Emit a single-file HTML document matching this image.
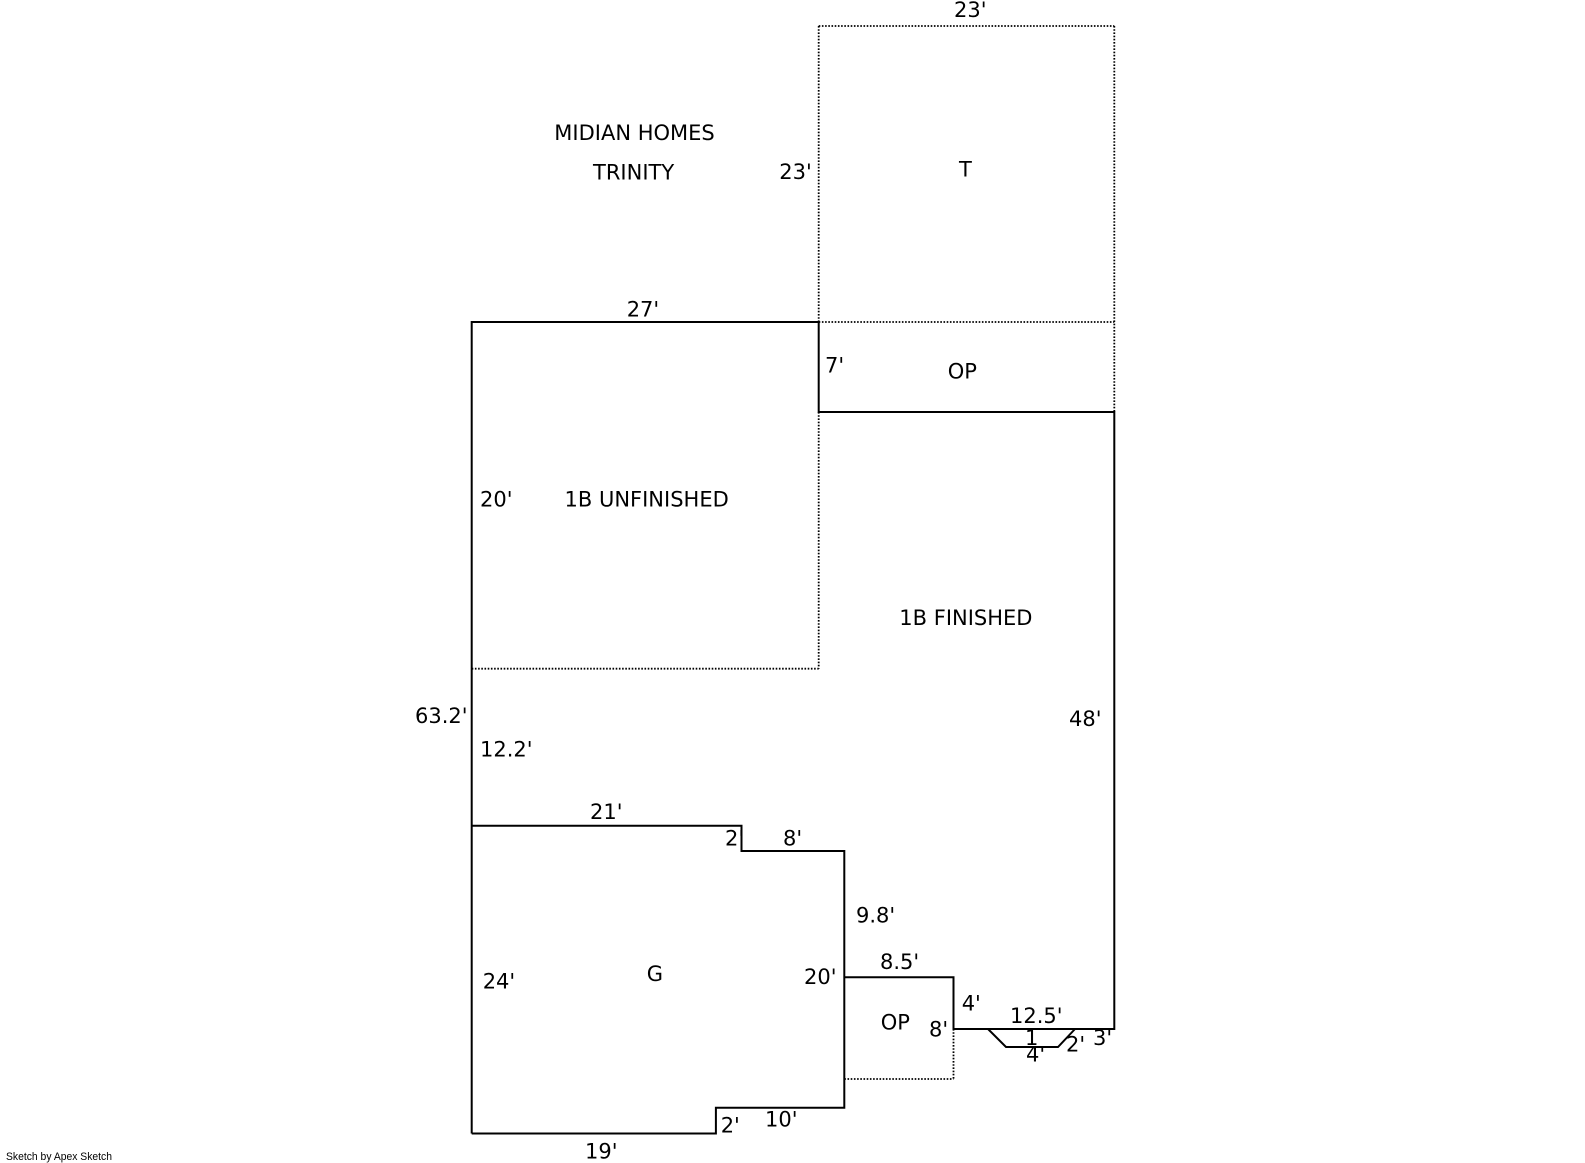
<!DOCTYPE html>
<html>
<head>
<meta charset="utf-8">
<style>
html,body{margin:0;padding:0;background:#fff;}
svg{display:block;}
text{font-family:"DejaVu Sans","Liberation Sans",sans-serif;font-size:21px;fill:#000;}
</style>
</head>
<body>
<svg width="1585" height="1163" viewBox="0 0 1585 1163" xmlns="http://www.w3.org/2000/svg">
<rect width="1585" height="1163" fill="#fff"/>
<!-- dotted lines -->
<g stroke="#000" stroke-width="1.8" stroke-dasharray="1.6 1.6" fill="none">
  <line x1="818.7" y1="26" x2="1114.3" y2="26"/>
  <line x1="818.7" y1="26" x2="818.7" y2="322"/>
  <line x1="1114.3" y1="26" x2="1114.3" y2="412"/>
  <line x1="818.7" y1="322" x2="1114.3" y2="322"/>
  <line x1="818.7" y1="412" x2="818.7" y2="668.7"/>
  <line x1="471.7" y1="668.7" x2="818.7" y2="668.7"/>
  <line x1="953.5" y1="1029" x2="953.5" y2="1079"/>
  <line x1="844.3" y1="1079" x2="953.5" y2="1079"/>
</g>
<!-- solid lines -->
<g stroke="#000" stroke-width="2" fill="none" stroke-linejoin="miter">
  <polyline points="471.7,1133.5 471.7,322 818.7,322 818.7,412 1114.3,412 1114.3,1029 953.5,1029 953.5,977.3 844.3,977.3"/>
  <polyline points="471.7,825.7 741.5,825.7 741.5,851 844.3,851 844.3,1107.8 715.9,1107.8 715.9,1133.5 471.7,1133.5"/>
  <polyline points="988,1029 1006,1047 1058,1047 1075,1029"/>
</g>
<!-- labels -->
<text x="954" y="17">23'</text>
<text x="554.3" y="140">MIDIAN HOMES</text>
<text x="593" y="179.3">TRINITY</text>
<text x="779.3" y="179">23'</text>
<text x="959" y="176.7">T</text>
<text x="626.7" y="316.7">27'</text>
<text x="825" y="372.7">7'</text>
<text x="947.7" y="378.3">OP</text>
<text x="480" y="506.7">20'</text>
<text x="564.5" y="506.7">1B UNFINISHED</text>
<text x="899.3" y="625">1B FINISHED</text>
<text x="415" y="723">63.2'</text>
<text x="480" y="756.7">12.2'</text>
<text x="1069" y="726">48'</text>
<text x="590" y="819">21'</text>
<text x="725" y="845.7">2'</text>
<text x="783" y="845.7">8'</text>
<text x="856" y="922.3">9.8'</text>
<text x="880" y="969">8.5'</text>
<text x="804" y="984">20'</text>
<text x="482.7" y="988.3">24'</text>
<text x="646.7" y="981">G</text>
<text x="961.7" y="1010.7">4'</text>
<text x="1010" y="1023">12.5'</text>
<text x="880.7" y="1029.3">OP</text>
<text x="929" y="1036.7">8'</text>
<text x="1025" y="1045">1</text>
<text x="1026" y="1061.7">4'</text>
<text x="1066" y="1051.7">2'</text>
<text x="1093" y="1045">3'</text>
<text x="720.7" y="1132.7">2'</text>
<text x="765" y="1126.7">10'</text>
<text x="585" y="1158.3">19'</text>
<text x="6" y="1160" style="font-family:'Liberation Sans',sans-serif;font-size:11px" textLength="106" lengthAdjust="spacingAndGlyphs">Sketch by Apex Sketch</text>
</svg>
</body>
</html>
